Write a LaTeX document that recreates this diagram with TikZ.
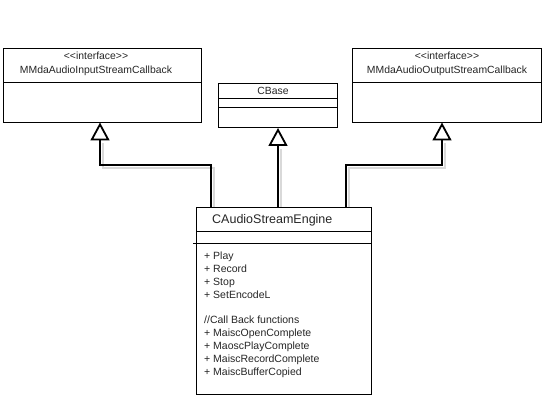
\documentclass[tikz,border=0pt]{standalone}
\usepackage{fontspec}
\setmainfont{Liberation Sans}
\usetikzlibrary{arrows.meta}
\begin{document}
\begin{tikzpicture}[x=1pt,y=-1pt,
  box/.style={draw=black,line width=0.9pt,fill=white,inner sep=0pt},
  txt/.style={font=\fontsize{10.4}{12}\selectfont,text=black!85,inner sep=0pt},
  conn/.style={line width=2.4pt,-{Triangle[open,width=19pt,length=18pt,line width=1.8pt]}},
  shadow/.style={line width=2.4pt,draw=black!15}
]
\useasboundingbox[fill=white] (0,0) rectangle (547,401);
% shadows of connectors
\draw[shadow] (214,207) -- (214,168) -- (103,168) -- (103,143);
\draw[shadow] (281,207) -- (281,149);
\draw[shadow] (349,207) -- (349,168) -- (445,168) -- (445,143);
% boxes
\node[box,minimum width=198pt,minimum height=74pt,anchor=north west] (inL) at (3,48) {};
\draw[line width=0.9pt] (3,82) -- (201,82);
\node[txt] (inLs) at (96,56) {{<}{<}interface{>}{>}};
\node[txt] (inLn) at (96,71) {MMdaAudioInputStreamCallback};

\node[box,minimum width=119pt,minimum height=44pt,anchor=north west] (cb) at (218,83) {};
\draw[line width=0.9pt] (218,98) -- (337,98);
\draw[line width=0.9pt] (218,107) -- (337,107);
\node[txt] (cbn) at (273,91) {CBase};

\node[box,minimum width=189pt,minimum height=74pt,anchor=north west] (outR) at (352,48) {};
\draw[line width=0.9pt] (352,82) -- (541,82);
\node[txt] (outRs) at (447,56) {{<}{<}interface{>}{>}};
\node[txt] (outRn) at (447,71) {MMdaAudioOutputStreamCallback};

\node[box,minimum width=175pt,minimum height=187pt,anchor=north west] (eng) at (196,207) {};
\draw[line width=0.9pt] (196,231) -- (371,231);
\draw[line width=0.9pt] (193,243) -- (371,243);
\node[txt,font=\fontsize{12.5}{14}\selectfont,anchor=west] (engn) at (212,220) {CAudioStreamEngine};
\node[txt,anchor=north west,align=left,font=\fontsize{10.5}{13}\selectfont] (meth) at (204,252)
 {+ Play\\+ Record\\+ Stop\\+ SetEncodeL\\[12pt]//Call Back functions\\+ MaiscOpenComplete\\+ MaoscPlayComplete\\+ MaiscRecordComplete\\+ MaiscBufferCopied};
% connectors
\coordinate (eL) at (211,207);
\coordinate (bL) at (100,165);
\coordinate (aL) at (100,122.5);
\coordinate (eM) at (278,207);
\coordinate (aM) at (278,128);
\coordinate (eR) at (346,207);
\coordinate (bR) at (442,165);
\coordinate (aR) at (442,122.5);
\draw[conn] (eL) -- (eL |- bL) -- (bL) -- (aL);
\draw[conn] (eM) -- (aM);
\draw[conn] (eR) -- (eR |- bR) -- (bR) -- (aR);
\end{tikzpicture}
\end{document}
